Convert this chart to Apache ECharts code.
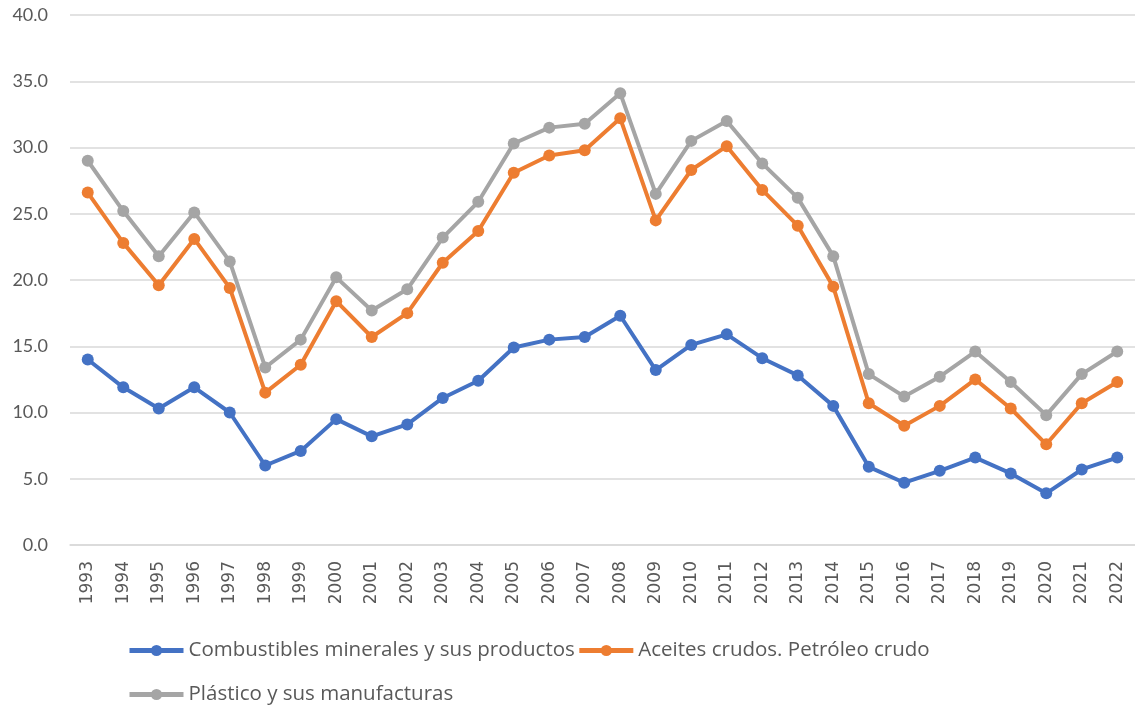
<!DOCTYPE html>
<html>
<head>
<meta charset="utf-8">
<script src="https://cdn.jsdelivr.net/npm/echarts@6/dist/echarts.min.js"></script>
<style>html,body{margin:0;padding:0;background:#fff;}#c{width:1135px;height:707px;}</style>
</head>
<body>
<div id="c"></div>
<script>
const years = ['1993','1994','1995','1996','1997','1998','1999','2000','2001','2002','2003','2004','2005','2006','2007','2008','2009','2010','2011','2012','2013','2014','2015','2016','2017','2018','2019','2020','2021','2022'];
const combustibles = [14.0,11.9,10.3,11.9,10.0,6.0,7.1,9.5,8.2,9.1,11.1,12.4,14.9,15.5,15.7,17.3,13.2,15.1,15.9,14.1,12.8,10.5,5.9,4.7,5.6,6.6,5.4,3.9,5.7,6.6];
const aceites = [26.6,22.8,19.6,23.1,19.4,11.5,13.6,18.4,15.7,17.5,21.3,23.7,28.1,29.4,29.8,32.2,24.5,28.3,30.1,26.8,24.1,19.5,10.7,9.0,10.5,12.5,10.3,7.6,10.7,12.3];
const plastico = [29.0,25.2,21.8,25.1,21.4,13.4,15.5,20.2,17.7,19.3,23.2,25.9,30.3,31.5,31.8,34.1,26.5,30.5,32.0,28.8,26.2,21.8,12.9,11.2,12.7,14.6,12.3,9.8,12.9,14.6];
const names = ['Combustibles minerales y sus productos','Aceites crudos. Petróleo crudo','Plástico y sus manufacturas'];
const colors = ['#4472C4','#ED7D31','#A5A5A5'];
const yTicks = {min:0, max:40, interval:5};

const font = 'Lato, "Open Sans", sans-serif';
const legendFont = '"Open Sans", Lato, sans-serif';
const chart = echarts.init(document.getElementById('c'));
function mk(i, data){
  return {
    name: names[i], type:'line', data: data,
    symbol:'circle', symbolSize:12,
    lineStyle:{width:4, color:colors[i]},
    itemStyle:{color:colors[i]},
    animation:false
  };
}
const legendCommon = {
  padding:0, itemWidth:54, itemHeight:14, itemGap:2,
  lineStyle:{width:5},
  textStyle:{color:'#595959', fontSize:20.5, fontFamily:legendFont}
};
chart.setOption({
  animation:false,
  grid:{left:70, right:0, top:15, bottom:162, containLabel:false},
  xAxis:{
    type:'category', data: years, boundaryGap:true,
    axisLine:{show:true, lineStyle:{color:'#D9D9D9', width:1.5}},
    axisTick:{show:false},
    axisLabel:{rotate:90, color:'#595959', fontSize:17, fontFamily:'"DejaVu Sans", sans-serif', margin:16, interval:0}
  },
  yAxis:{
    type:'value', min:yTicks.min, max:yTicks.max, interval:yTicks.interval,
    axisLine:{show:false}, axisTick:{show:false},
    splitLine:{lineStyle:{color:'#D9D9D9', width:1.5}},
    axisLabel:{color:'#595959', fontSize:18, fontFamily:font, margin:22, formatter:v=>v.toFixed(1)}
  },
  legend:[
    Object.assign({data:[names[0],names[1]], left:127, top:640}, legendCommon),
    Object.assign({data:[names[2]], left:127, top:684}, legendCommon)
  ],
  series:[mk(0,combustibles), mk(1,aceites), mk(2,plastico)]
});
</script>
</body>
</html>
